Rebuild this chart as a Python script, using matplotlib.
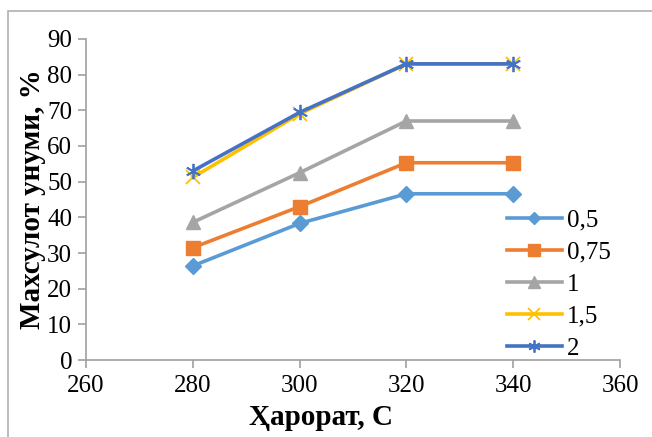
import matplotlib.pyplot as plt
from matplotlib.patches import Rectangle

temps = [280, 300, 320, 340]
y_05 = [26.4, 38.3, 46.6, 46.6]
y_075 = [31.5, 43.0, 55.3, 55.3]
y_1 = [38.6, 52.5, 67.0, 67.0]
y_15 = [51.2, 69.0, 83.0, 83.0]
y_2 = [53.0, 69.4, 83.0, 83.0]
labels = ["0,5", "0,75", "1", "1,5", "2"]

plt.rcParams['font.family'] = ['Liberation Serif', 'DejaVu Serif']

fig = plt.figure(figsize=(6.52, 4.37), dpi=100)
ax = fig.add_axes([0.132, 0.176, 0.819, 0.735])

# рамка диаграммы
fig.patches.append(Rectangle((0.012, -0.05), 1.2, 1.024, transform=fig.transFigure,
                             fill=False, edgecolor='#b0b0b0', linewidth=1.2))

lw = 2.6
ax.plot(temps, y_05, color='#5b9bd5', marker='D', markersize=8, lw=lw, label=labels[0])
ax.plot(temps, y_075, color='#ed7d31', marker='s', markersize=10, lw=lw, label=labels[1])
ax.plot(temps, y_1, color='#a5a5a5', marker='^', markersize=10, lw=lw, label=labels[2])
ax.plot(temps, y_15, color='#ffc000', marker='x', markersize=10, mew=1.3, lw=lw, label=labels[3])
ax.plot(temps, y_2, color='#4472c4', marker=(6, 2, 0), markersize=11, mew=1.3, lw=lw, label=labels[4])

ax.set_xlim(260, 360)
ax.set_ylim(0, 90)
ax.set_xticks(range(260, 361, 20))
ax.set_yticks(range(0, 91, 10))
for s in ['top', 'right']:
    ax.spines[s].set_visible(False)
for s in ['left', 'bottom']:
    ax.spines[s].set_color('#a0a0a0')
    ax.spines[s].set_linewidth(1.2)
ax.tick_params(axis='both', labelsize=18, color='#a0a0a0', length=6, width=1.2)
ax.tick_params(axis='x', pad=5)
ax.tick_params(axis='y', pad=4)

ax.set_xlabel("Ҳарорат, С", fontsize=21, fontweight='bold', va='center')
ax.xaxis.set_label_coords(0.44, -0.18)
ax.set_ylabel("Махсулот унуми, %", fontsize=21, fontweight='bold', va='center')
ax.yaxis.set_label_coords(-0.101, 0.5)

ax.legend(loc='lower left', bbox_to_anchor=(0.76, -0.045), frameon=False, fontsize=18,
          handlelength=2.2, handletextpad=0.2, labelspacing=0.38, borderpad=0.1,
          markerscale=0.8)

fig.savefig("out.png", dpi=100)
